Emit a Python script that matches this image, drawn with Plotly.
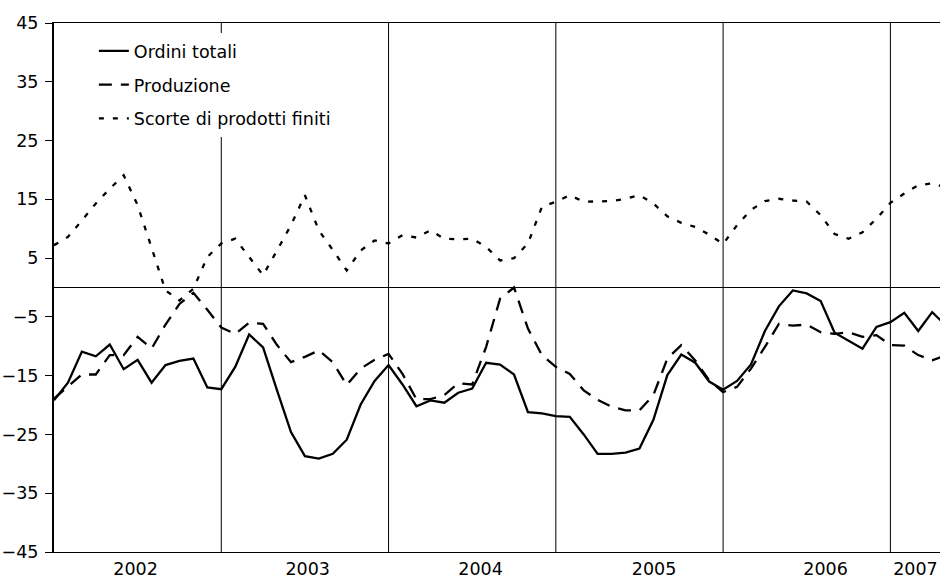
import pandas as pd
import plotly.graph_objects as go

# ==========================
# DATA (monthly, Jan 2002 - May 2007)
# ==========================

months = pd.date_range("2002-01-01", periods=65, freq="MS")

ordini_totali = [
    -19.2, -16.2, -10.9, -11.7, -9.7, -13.9, -12.3, -16.2, -13.2, -12.5, -12.1, -17.0,
    -17.3, -13.5, -8.0, -10.2, -17.5, -24.6, -28.7, -29.1, -28.3, -25.9, -19.9, -15.9,
    -13.2, -16.5, -20.2, -19.2, -19.6, -17.9, -17.2, -12.8, -13.1, -14.8, -21.2, -21.4,
    -21.9, -22.0, -25.0, -28.3, -28.3, -28.1, -27.4, -22.5, -14.9, -11.4, -12.8, -16.0,
    -17.4, -15.9, -13.1, -7.4, -3.2, -0.5, -1.0, -2.3, -7.7, -9.1, -10.4, -6.7,
    -5.9, -4.3, -7.4, -4.2, -6.5,
]

produzione = [
    -18.9, -16.9, -14.8, -14.8, -11.5, -11.5, -8.4, -10.4, -6.3, -2.8, -0.9, -3.8,
    -6.8, -7.9, -6.0, -6.2, -9.8, -12.7, -11.8, -10.7, -12.7, -16.6, -13.8, -12.3,
    -11.3, -14.7, -19.0, -19.0, -18.3, -16.3, -16.5, -10.1, -1.9, 0.0, -7.0, -11.5,
    -13.5, -14.7, -17.5, -19.1, -20.3, -20.9, -20.9, -18.3, -12.1, -9.8, -12.4, -15.8,
    -17.8, -16.9, -13.8, -10.1, -6.2, -6.5, -6.3, -7.6, -7.9, -7.6, -8.4, -8.1,
    -9.8, -9.9, -11.5, -12.4, -11.5,
]

scorte = [
    7.2, 8.6, 11.4, 14.3, 16.8, 19.1, 14.0, 6.9, -0.5, -2.2, -0.2, 5.2,
    7.5, 8.3, 5.2, 2.1, 6.3, 10.6, 15.7, 9.7, 6.4, 2.9, 6.3, 8.0,
    7.5, 8.9, 8.5, 9.7, 8.3, 8.2, 8.3, 6.9, 4.6, 5.0, 7.5, 13.7,
    14.6, 15.7, 14.6, 14.7, 14.7, 15.1, 15.7, 14.3, 12.1, 11.0, 10.3, 9.0,
    7.4, 10.6, 13.2, 14.7, 15.1, 14.8, 14.6, 12.3, 9.1, 8.3, 9.4, 11.7,
    14.4, 16.0, 17.4, 17.7, 17.0,
]

year_labels = ["2002", "2003", "2004", "2005", "2006", "2007"]
y_ticks = [-45, -35, -25, -15, -5, 5, 15, 25, 35, 45]

# ==========================
# FIGURE
# ==========================

FONT = dict(family="DejaVu Sans", size=17.5, color="black")
x = list(range(len(months)))

series = [
    ("Ordini totali", ordini_totali, "solid"),
    ("Produzione", produzione, "13px,9px"),
    ("Scorte di prodotti finiti", scorte, "5px,9px"),
]

fig = go.Figure()
for name, values, dash in series:
    fig.add_trace(go.Scatter(
        x=x, y=values, name=name, mode="lines",
        legendgroup=name,
        line=dict(color="black", width=2.3, dash=dash),
        customdata=months.strftime("%b %Y"),
        hovertemplate="%{customdata}: %{y:.1f}<extra>" + name + "</extra>",
    ))

# year separators (January of each year)
for i, m in enumerate(months):
    if m.month == 1 and i > 0:
        fig.add_vline(x=i, line=dict(color="black", width=1), layer="below")

# label positions as they sit in the original
label_pos = [5.85, 18.2, 30.6, 43.05, 55.35, 61.8]

fig.update_layout(
    width=940, height=578,
    margin=dict(l=54, r=0, t=23, b=26),
    plot_bgcolor="white", paper_bgcolor="white",
    font=FONT,
    showlegend=True,
    legend=dict(
        x=0.045, y=0.981, xanchor="left", yanchor="top",
        bgcolor="white", borderwidth=0,
        font=FONT, tracegroupgap=8,
    ),
    xaxis=dict(
        range=[0, 63.56], showgrid=False, zeroline=False, automargin=False,
        showline=True, linecolor="black", linewidth=1, mirror=True,
        tickvals=label_pos, ticktext=year_labels, ticks="",
        ticklabelstandoff=1, ticklabeloverflow="allow", tickfont=FONT,
    ),
    yaxis=dict(
        range=[-45, 45], tickvals=y_ticks, showgrid=False, automargin=False,
        zeroline=True, zerolinecolor="black", zerolinewidth=1.2,
        showline=True, linecolor="black", linewidth=2,
        ticks="outside", ticklen=7, tickcolor="black", tickwidth=1,
        ticklabelstandoff=3, tickfont=FONT,
    ),
)

# page body has a default margin; drop it so the figure sits at 0,0
fig.write_html(
    "out.html",
    config={"displayModeBar": False},
    post_script="document.body.style.margin='0';",
)
